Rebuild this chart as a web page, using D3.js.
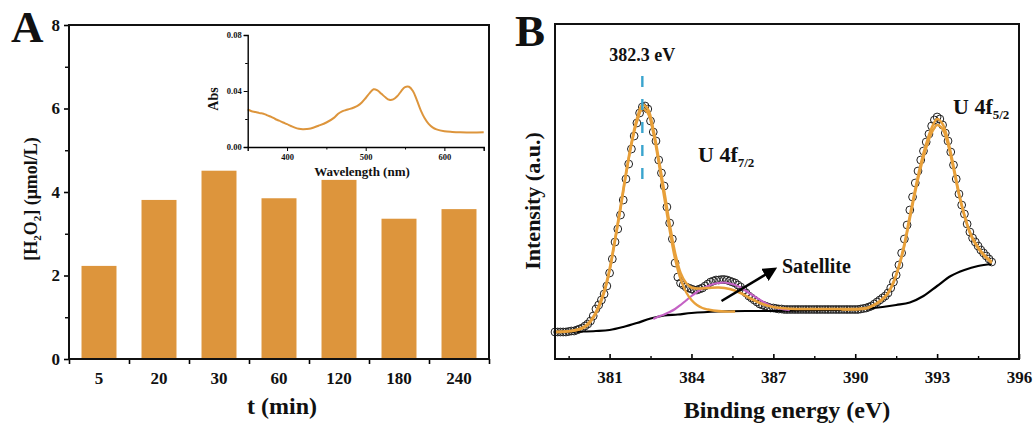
<!DOCTYPE html>
<html><head><meta charset="utf-8">
<script src="https://cdn.jsdelivr.net/npm/d3@7"></script>
<style>
body{margin:0;background:#fff}
svg{display:block}
text{font-family:"Liberation Serif","Times New Roman",serif;font-weight:bold;fill:#111}
</style>
</head><body>
<svg id="c" width="1034" height="424"></svg>
<script>
// ---------- Panel A data ----------
const times = ["5","20","30","60","120","180","240"];
const h2o2 = [2.23, 3.81, 4.51, 3.85, 4.29, 3.36, 3.59];
const yTicksA = [0, 2, 4, 6, 8];
const yMinorA = [1, 3, 5, 7];

// inset UV-vis
const wavelength = [350,355,360,365,370,375,380,385,390,395,400,405,410,415,420,425,430,440,450,460,465,470,475,480,485,490,495,500,505,510,515,520,525,530,535,540,545,550,555,560,565,570,575,580,585,590,600,610,620,635,650];
const absorbance = [0.0268,0.0255,0.0250,0.0242,0.0238,0.0226,0.0215,0.0200,0.0188,0.0175,0.0163,0.0150,0.0138,0.0130,0.0127,0.0128,0.0132,0.0152,0.0175,0.0210,0.0238,0.0255,0.0264,0.0272,0.0282,0.0295,0.0318,0.0350,0.0385,0.0412,0.0404,0.0380,0.0355,0.0337,0.0340,0.0362,0.0398,0.0428,0.0430,0.0400,0.0335,0.0262,0.0205,0.0165,0.0140,0.0126,0.0113,0.0108,0.0105,0.0103,0.0105];
const insetXTicks = [400, 500, 600];
const insetXMinor = [450, 550, 650];
const insetYTicks = [0, 0.04, 0.08];
const insetYMinor = [0.02, 0.06];

// ---------- Panel B data ----------
const rawEnergy = [
379.0,379.1,379.2,379.3,379.4,379.5,379.6,379.7,379.8,379.9,
380.0,380.1,380.2,380.3,380.4,380.5,380.6,380.7,380.8,380.9,
381.0,381.1,381.2,381.3,381.4,381.5,381.6,381.7,381.8,381.9,
382.0,382.1,382.2,382.3,382.4,382.5,382.6,382.7,382.8,382.9,
383.0,383.1,383.2,383.3,383.4,383.5,383.6,383.7,383.8,383.9,
384.0,384.1,384.2,384.3,384.4,384.5,384.6,384.7,384.8,384.9,
385.0,385.1,385.2,385.3,385.4,385.5,385.6,385.7,385.8,385.9,
386.0,386.1,386.2,386.3,386.4,386.5,386.6,386.7,386.8,386.9,
387.0,387.1,387.2,387.3,387.4,387.5,387.6,387.7,387.8,387.9,
388.0,388.1,388.2,388.3,388.4,388.5,388.6,388.7,388.8,388.9,
389.0,389.1,389.2,389.3,389.4,389.5,389.6,389.7,389.8,389.9,
390.0,390.1,390.2,390.3,390.4,390.5,390.6,390.7,390.8,390.9,
391.0,391.1,391.2,391.3,391.4,391.5,391.6,391.7,391.8,391.9,
392.0,392.1,392.2,392.3,392.4,392.5,392.6,392.7,392.8,392.9,
393.0,393.1,393.2,393.3,393.4,393.5,393.6,393.7,393.8,393.9,
394.0,394.1,394.2,394.3,394.4,394.5,394.6,394.7,394.8,394.9,
395.0];
const rawIntensity = [
27,27,27,27,27,27.5,28,28,29,30,
31,33,35,38,43,50,54,59,65,73,
86,100,117,130,144,159,180,195,210,223,
236,246,252,253,250,238,227,218,199,186,
173,152,136,120,96,82,76,74,72,71,
70,69,69,70,71,73,75,77,78,79,
79,79.5,79.5,79,78,77,76,74,72,69,
66,63,61,59,57,55,54,53,52,51,
51,50.5,50,50,49.5,49.5,49.5,49.5,49.5,49.5,
49.5,49.5,49.5,49.5,49.5,49.5,49.5,49.5,49.5,49.5,
49.5,49.5,49.5,49.5,49.5,49.5,49.5,49.5,49.5,49.5,
49.5,49.5,50,50.5,51,52,53,55,57,59,
61,63,66,71,77,84,94,106,120,134,
149,162,176,188,199,208,217,225,233,239,
242,240,234,226,218,207,194,180,165,154,
145,135,127,121,117,113,109,106,103,100,
97];

const envEnergy = [379,379.6,380.0,380.2,380.4,380.6,380.8,381.0,381.2,381.4,381.6,381.8,382.0,382.2,382.4,382.6,382.8,383.0,383.2,383.4,383.6,383.8,384.0,384.2,384.6,385.0,385.4,385.8,386.2,386.6,387.0,387.5,388,389,390.0,390.4,390.6,390.8,391.0,391.2,391.4,391.6,391.8,392.0,392.2,392.4,392.6,392.8,393.0,393.2,393.4,393.6,393.8,394.0,394.2,394.4,394.6,394.8,395.0];
const envIntensity = [27,28,31,35,42,53,68,90,120,152,186,216,240,254,250,230,200,168,135,106,86,76,71.5,70.5,71,71.5,70,66,60,55,52,50.5,50,50,50,51,53,56,60,66,77,93,115,143,170,195,215,231,240,235,218,193,166,144,127,116,108,102,97];

const f72Energy = [379,379.6,380.0,380.2,380.4,380.6,380.8,381.0,381.2,381.4,381.6,381.8,382.0,382.2,382.4,382.6,382.8,383.0,383.2,383.4,383.6,383.8,384.0,384.2,384.4,384.6,384.8,385.2,385.6];
const f72Intensity = [27,28,30.5,34,41,51,66,88,118,150,184,214,237,250,246,226,196,162,129,100,80,67,59,54,51,49.5,48.5,47.5,47.5];

const satEnergy = [382.6,382.8,383.0,383.2,383.4,383.6,383.8,384.0,384.2,384.4,384.6,384.8,385.0,385.2,385.4,385.6,385.8,386.0,386.2,386.4,386.6,386.8,387.0,387.2,387.4,387.6];
const satIntensity = [40,42.5,44.5,47,50,54,58.5,63,67,70.5,73,75,76,76.5,75.5,74,71.5,68,64.5,61,57.5,54.5,52,50.5,49.5,49];

const f52Energy = [389.5,390.0,390.4,390.6,390.8,391.0,391.2,391.4,391.6,391.8,392.0,392.2,392.4,392.6,392.8,393.0,393.2,393.4,393.6,393.8,394.0,394.2,394.4,394.6,394.8,395.0];
const f52Intensity = [49.5,49.5,50.5,52.5,55.5,59.5,65.5,76,92,113,140,167,191,211,226,234,230,214,190,164,143,126,115,107,101,96];

const bgEnergy = [379,380,380.5,381,381.5,382,382.5,383,383.5,384,385,386,387,388,389,390,390.5,391,391.5,392,392.5,393,393.5,394,394.5,395];
const bgIntensity = [27,27.5,28,29,32,36,40.5,43.5,44.5,46,47.5,48,48,48.5,49,49.5,50.5,52,54,56.5,63,73,83,89,93,95];

const bTicks = [381, 384, 387, 390, 393, 396];
const bMinor = [379.5, 382.5, 385.5, 388.5, 391.5, 394.5];
const peakEnergy = 382.2;
const peakLabel = "382.3 eV";

// ---------- drawing ----------
const svg = d3.select("#c");
const ORANGE = "#DD953C";
const FIT = "#E8A03A";
const MAG = "#C462C4";
const BLUE = "#3AA4CE";
const SERIF = "Liberation Serif";

// ===== Panel A =====
const xA = d3.scaleBand().domain(times).range([69, 489]).paddingInner(0.417).paddingOuter(0.2085);
const yA = d3.scaleLinear().domain([0, 8]).range([359, 25]);
const gA = svg.append("g");

gA.selectAll("rect.bar").data(h2o2).join("rect")
  .attr("class","bar")
  .attr("x", (d,i) => xA(times[i]))
  .attr("width", xA.bandwidth())
  .attr("y", d => yA(d))
  .attr("height", d => yA(0) - yA(d))
  .attr("fill", ORANGE);

const yAxA = gA.append("g").attr("transform","translate(69,0)")
  .call(d3.axisLeft(yA).tickValues(yTicksA).tickSize(5).tickPadding(4).tickFormat(d3.format("d")));
yAxA.select(".domain").remove();
yAxA.selectAll("text").style("font-size","17px").style("font-family",SERIF).style("font-weight","bold");
yAxA.selectAll("line").attr("stroke-width",1.6);
const yMinA = gA.append("g").attr("transform","translate(69,0)")
  .call(d3.axisLeft(yA).tickValues(yMinorA).tickSize(4).tickFormat(""));
yMinA.select(".domain").remove();
yMinA.selectAll("line").attr("stroke-width",1.4);

const xAx = gA.append("g").attr("transform","translate(0,359)")
  .call(d3.axisBottom(xA).tickSize(0).tickPadding(13));
xAx.select(".domain").remove();
xAx.selectAll("text").style("font-size","17px").style("font-family",SERIF).style("font-weight","bold");
const idx = d3.scaleLinear().domain([0, times.length]).range([69, 489]);
const xB = gA.append("g").attr("transform","translate(0,359)")
  .call(d3.axisBottom(idx).tickValues(d3.range(times.length + 1)).tickSize(5).tickFormat(""));
xB.select(".domain").remove();
xB.selectAll("line").attr("stroke-width",1.6);

gA.append("rect").attr("x",69).attr("y",25).attr("width",420).attr("height",334)
  .attr("fill","none").attr("stroke","#111").attr("stroke-width",2);

gA.append("text").attr("x",282).attr("y",414).attr("text-anchor","middle")
  .style("font-size","24px").text("t (min)");

const yt = gA.append("text").attr("transform","translate(37,199) rotate(-90)")
  .attr("text-anchor","middle").style("font-size","18px");
yt.append("tspan").text("[H");
yt.append("tspan").text("2").style("font-size","11px").attr("dy",4);
yt.append("tspan").text("O").attr("dy",-4);
yt.append("tspan").text("2").style("font-size","11px").attr("dy",4);
yt.append("tspan").text("] (μmol/L)").attr("dy",-4);

gA.append("text").attr("x",11).attr("y",42).style("font-size","45px").text("A");

// inset
const xI = d3.scaleLinear().domain([350, 650]).range([247.7, 483.7]);
const yI = d3.scaleLinear().domain([0, 0.08]).range([147, 35]);
const gI = svg.append("g");
gI.append("path").datum(wavelength.map((w,i)=>[w, absorbance[i]]))
  .attr("fill","none").attr("stroke",ORANGE).attr("stroke-width",2)
  .attr("d", d3.line().x(d=>xI(d[0])).y(d=>yI(d[1])).curve(d3.curveCatmullRom));
const ixAx = gI.append("g").attr("transform","translate(0,147)")
  .call(d3.axisBottom(xI).tickValues(insetXTicks).tickSize(4).tickPadding(3).tickFormat(d3.format("d")));
ixAx.select(".domain").attr("stroke-width",1.4);
ixAx.selectAll("text").style("font-size","8.5px").style("font-family",SERIF).style("font-weight","bold");
const ixMin = gI.append("g").attr("transform","translate(0,147)")
  .call(d3.axisBottom(xI).tickValues(insetXMinor).tickSize(2.5).tickFormat(""));
ixMin.select(".domain").remove();
const iyAx = gI.append("g").attr("transform","translate(247.7,0)")
  .call(d3.axisLeft(yI).tickValues(insetYTicks).tickSize(4).tickPadding(2).tickFormat(d3.format(".2f")));
iyAx.select(".domain").attr("stroke-width",1.4);
iyAx.selectAll("text").style("font-size","8.5px").style("font-family",SERIF).style("font-weight","bold");
const iyMin = gI.append("g").attr("transform","translate(247.7,0)")
  .call(d3.axisLeft(yI).tickValues(insetYMinor).tickSize(2.5).tickFormat(""));
iyMin.select(".domain").remove();
gI.append("text").attr("x",362).attr("y",176).attr("text-anchor","middle")
  .style("font-size","13px").text("Wavelength (nm)");
gI.append("text").attr("transform","translate(218,99) rotate(-90)").attr("text-anchor","middle")
  .style("font-size","14px").text("Abs");

// ===== Panel B =====
const xE = d3.scaleLinear().domain([379, 396]).range([555, 1019]);
const yE = d3.scaleLinear().domain([0, 335]).range([359, 24]);
const gB = svg.append("g");
const lineE = d3.line().x(d=>xE(d[0])).y(d=>yE(d[1])).curve(d3.curveCatmullRom);
const pairs = (e, v) => e.map((x,i)=>[x, v[i]]);

gB.selectAll("circle.raw").data(pairs(rawEnergy, rawIntensity)).join("circle")
  .attr("class","raw").attr("cx", d=>xE(d[0])).attr("cy", d=>yE(d[1])).attr("r",3.9)
  .attr("fill","none").attr("stroke","#222").attr("stroke-width",1);

gB.append("path").datum(pairs(bgEnergy,bgIntensity)).attr("d",lineE)
  .attr("fill","none").attr("stroke","#000").attr("stroke-width",2.2);
gB.append("path").datum(pairs(satEnergy,satIntensity)).attr("d",lineE)
  .attr("fill","none").attr("stroke",MAG).attr("stroke-width",2.2);
gB.append("path").datum(pairs(f72Energy,f72Intensity)).attr("d",lineE)
  .attr("fill","none").attr("stroke",FIT).attr("stroke-width",2.4);
gB.append("path").datum(pairs(f52Energy,f52Intensity)).attr("d",lineE)
  .attr("fill","none").attr("stroke",FIT).attr("stroke-width",2.4);
gB.append("path").datum(pairs(envEnergy,envIntensity)).attr("d",lineE)
  .attr("fill","none").attr("stroke",FIT).attr("stroke-width",2.6);

gB.append("line").attr("x1",xE(peakEnergy)).attr("x2",xE(peakEnergy)).attr("y1",76).attr("y2",183)
  .attr("stroke",BLUE).attr("stroke-width",2.4).attr("stroke-dasharray","11,12");
gB.append("text").attr("x",xE(peakEnergy)).attr("y",61).attr("text-anchor","middle")
  .style("font-size","18px").text(peakLabel);

const bAx = gB.append("g").attr("transform","translate(0,359)")
  .call(d3.axisBottom(xE).tickValues(bTicks).tickSizeInner(-5).tickSizeOuter(0).tickPadding(12).tickFormat(d3.format("d")));
bAx.select(".domain").remove();
bAx.selectAll("line").attr("stroke-width",1.6);
bAx.selectAll("text").style("font-size","17px").style("font-family",SERIF).style("font-weight","bold");
const bMin = gB.append("g").attr("transform","translate(0,359)")
  .call(d3.axisBottom(xE).tickValues(bMinor).tickSizeInner(-3).tickSizeOuter(0).tickFormat(""));
bMin.select(".domain").remove();
bMin.selectAll("line").attr("stroke-width",1.4);

gB.append("rect").attr("x",555).attr("y",24).attr("width",464).attr("height",335)
  .attr("fill","none").attr("stroke","#111").attr("stroke-width",2);

gB.append("text").attr("x",787).attr("y",418).attr("text-anchor","middle")
  .style("font-size","24px").text("Binding energy (eV)");
gB.append("text").attr("transform","translate(540,201) rotate(-90)").attr("text-anchor","middle")
  .style("font-size","22px").text("Intensity (a.u.)");
gB.append("text").attr("x",515).attr("y",46).style("font-size","45px").text("B");

const l1 = gB.append("text").attr("x",698).attr("y",162).style("font-size","22px");
l1.append("tspan").text("U 4f");
l1.append("tspan").text("7/2").style("font-size","13px").attr("dy",5);
const l2 = gB.append("text").attr("x",953).attr("y",114).style("font-size","22px");
l2.append("tspan").text("U 4f");
l2.append("tspan").text("5/2").style("font-size","13px").attr("dy",5);

const arrowFrom = [385.1, 58];
const arrowTo = [387.05, 90];
svg.append("defs").append("marker").attr("id","ah").attr("viewBox","0 0 10 10")
  .attr("refX",8).attr("refY",5).attr("markerWidth",5.5).attr("markerHeight",5.5)
  .attr("orient","auto").append("path").attr("d","M0,0 L10,5 L0,10 z").attr("fill","#000");
gB.append("line").attr("x1",xE(arrowFrom[0])).attr("y1",yE(arrowFrom[1]))
  .attr("x2",xE(arrowTo[0])).attr("y2",yE(arrowTo[1]))
  .attr("stroke","#000").attr("stroke-width",2.6).attr("marker-end","url(#ah)");
gB.append("text").attr("x",782).attr("y",273).style("font-size","20px").text("Satellite");
</script>
</body></html>
